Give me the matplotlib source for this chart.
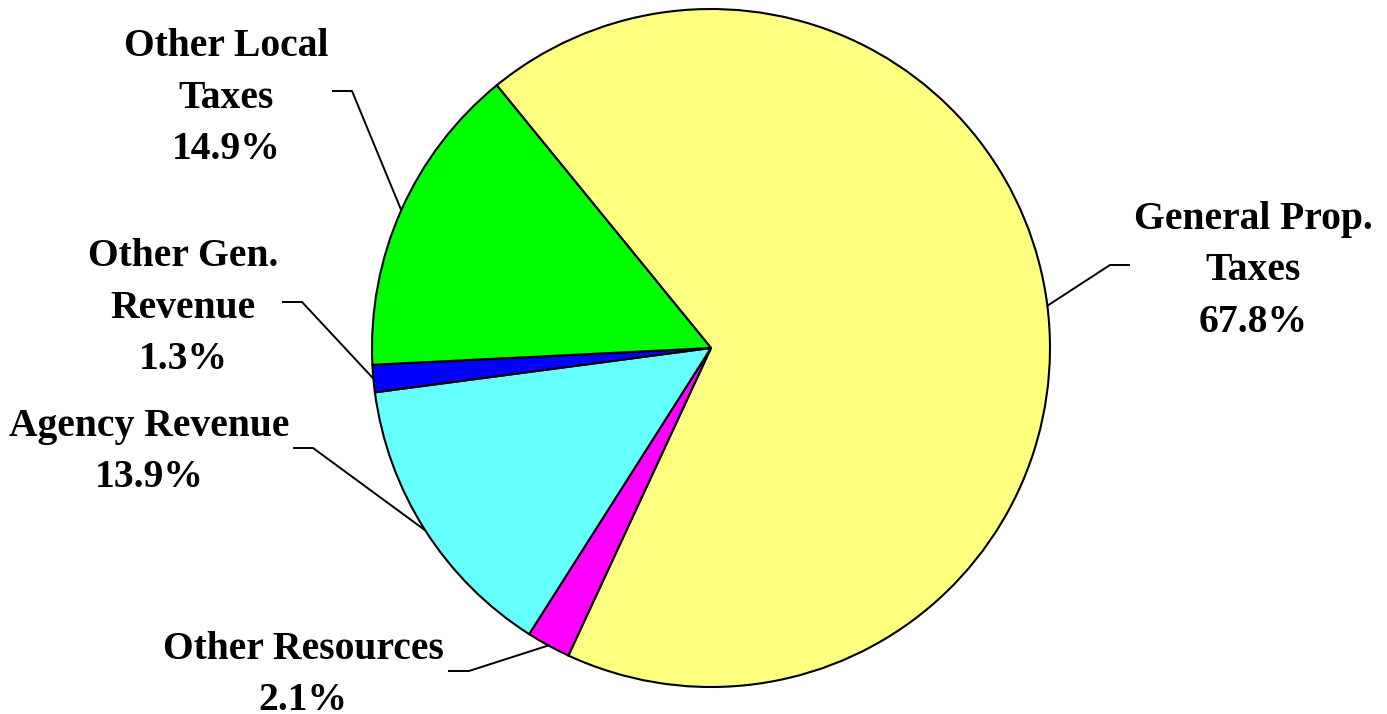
import numpy as np
import matplotlib.pyplot as plt

# data
labels = ['General Prop.\nTaxes', 'Other Resources', 'Agency Revenue',
          'Other Gen.\nRevenue', 'Other Local\nTaxes']
shares = [67.8, 2.1, 13.9, 1.3, 14.9]
colors = ['#FFFF80', '#FF00FF', '#66FFFF', '#0000FF', '#00FF00']

# layout, in pixels from the top left corner
W, H = 1387, 714
centre = (711, 348)
radius = 339
text_pos = [(1253, 271), (303, 675), (149, 452), (183, 308), (226, 98)]
elbow = [(1110, 265), (469, 671), (313, 448), (302, 302), (352, 91)]
tail = [(1130, 265), (448, 671), (293, 448), (282, 302), (332, 91)]

fig = plt.figure(figsize=(W / 100, H / 100), dpi=100)
ax = fig.add_axes([0, 0, 1, 1])

wedges, _ = ax.pie(shares, colors=colors, startangle=129.2, counterclock=False,
                   center=(centre[0], H - centre[1]), radius=radius,
                   wedgeprops=dict(edgecolor='black', linewidth=1.5))

for i, w in enumerate(wedges):
    # leader line: from label tail, to elbow, to middle of wedge rim
    mid = np.deg2rad((w.theta1 + w.theta2) / 2)
    ex = centre[0] + radius * np.cos(mid)
    ey = H - centre[1] + radius * np.sin(mid)
    xs = [tail[i][0], elbow[i][0], ex]
    ys = [H - tail[i][1], H - elbow[i][1], ey]
    ax.plot(xs, ys, color='black', lw=1.4, solid_capstyle='butt')

    txt = labels[i] + '\n' + f'{shares[i]:.1f}%'
    ax.text(text_pos[i][0], H - text_pos[i][1], txt, ha='center', va='center',
            multialignment='center', fontsize=28.5, fontweight='bold',
            family='Liberation Serif', linespacing=1.53)

ax.set_xlim(0, W)
ax.set_ylim(0, H)
ax.set_aspect('equal')
ax.axis('off')

fig.savefig('out.png', dpi=100)
